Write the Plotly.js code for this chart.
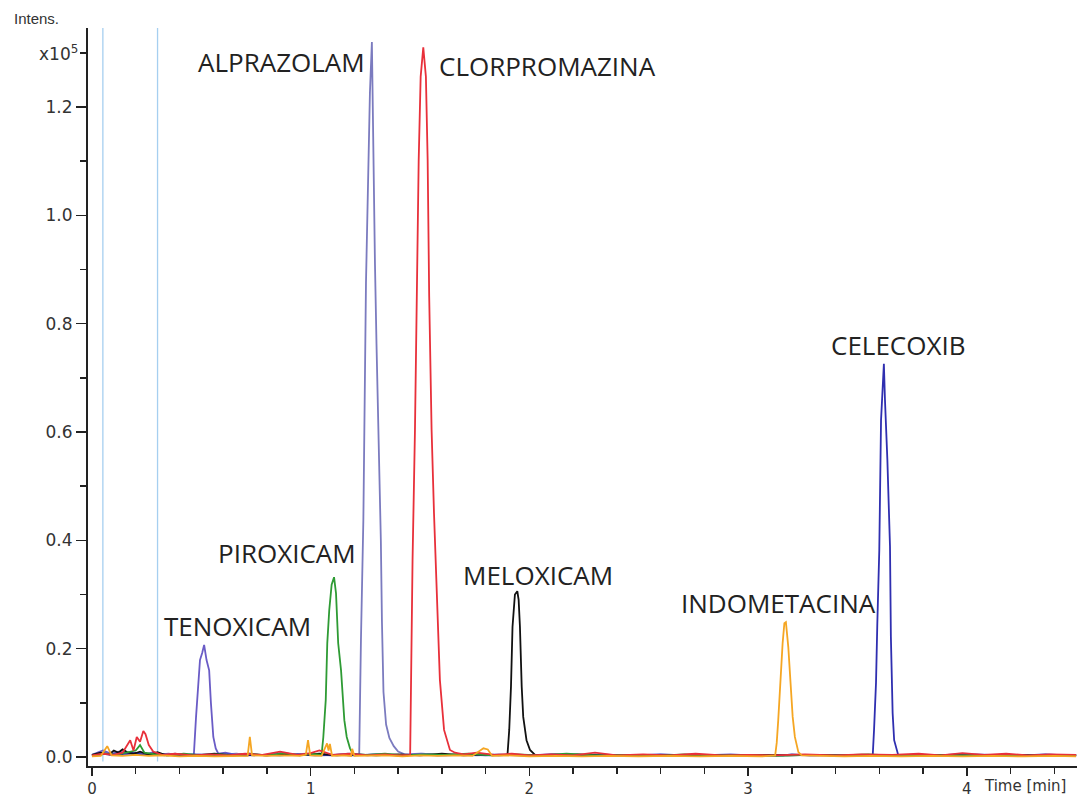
<!DOCTYPE html>
<html>
<head>
<meta charset="utf-8">
<script src="https://cdn.plot.ly/plotly-3.0.1.min.js"></script>
<style>
  html, body { margin: 0; padding: 0; background: #fff; }
  #chart { width: 1077px; height: 798px; }
</style>
</head>
<body>
<div id="chart"></div>
<script>
// Extracted ion chromatograms: [time (min), intensity (x10^5)]
const tenoxicam = [[0.00,0.004],[0.05,0.012],[0.09,0.006],[0.12,0.010],[0.16,0.005],[0.20,0.008],[0.24,0.004],[0.28,0.009],[0.33,0.003],[0.38,0.006],[0.43,0.003],
  [0.466,0.004],[0.476,0.074],[0.486,0.13],[0.494,0.179],[0.504,0.192],[0.513,0.207],[0.524,0.179],[0.536,0.16],[0.544,0.10],[0.555,0.037],[0.566,0.016],[0.578,0.006],
  [0.61,0.008],[0.66,0.004],[0.72,0.006],[0.79,0.003],[0.86,0.007],[0.93,0.004],[1.01,0.005],[1.09,0.003],[1.17,0.006],[1.25,0.004],[1.33,0.005],[1.42,0.003],[1.51,0.006],
  [1.62,0.003],[1.74,0.005],[1.86,0.004],[1.98,0.003],[2.10,0.005],[2.22,0.003],[2.36,0.004],[2.50,0.002],[2.64,0.004],[2.78,0.003],[2.92,0.005],[3.06,0.002],[3.20,0.004],
  [3.34,0.003],[3.48,0.004],[3.62,0.002],[3.76,0.004],[3.90,0.003],[4.04,0.005],[4.18,0.003],[4.32,0.004],[4.46,0.003],[4.50,0.003]];

const alprazolam = [[0.00,0.003],[0.04,0.007],[0.08,0.004],[0.13,0.009],[0.18,0.005],[0.23,0.008],[0.29,0.004],[0.35,0.006],[0.42,0.003],[0.50,0.005],[0.58,0.004],
  [0.66,0.006],[0.74,0.003],[0.82,0.005],[0.90,0.004],[0.98,0.006],[1.06,0.003],[1.14,0.005],[1.20,0.004],
  [1.222,0.004],[1.230,0.216],[1.241,0.437],[1.253,0.875],[1.262,1.034],[1.271,1.226],[1.280,1.32],[1.289,1.034],[1.294,0.912],[1.301,0.764],[1.308,0.635],
  [1.315,0.53],[1.321,0.40],[1.326,0.25],[1.333,0.12],[1.345,0.06],[1.36,0.035],[1.38,0.02],[1.40,0.01],[1.43,0.005],
  [1.50,0.006],[1.58,0.003],[1.66,0.005],[1.76,0.003],[1.86,0.005],[1.97,0.003],[2.08,0.004],[2.20,0.003],[2.33,0.005],[2.46,0.002],[2.60,0.004],[2.74,0.003],
  [2.88,0.004],[3.02,0.002],[3.16,0.004],[3.30,0.003],[3.44,0.004],[3.58,0.002],[3.72,0.004],[3.86,0.003],[4.00,0.004],[4.14,0.002],[4.28,0.004],[4.42,0.003],[4.50,0.003]];

const celecoxib = [[0.00,0.003],[0.06,0.006],[0.12,0.004],[0.18,0.008],[0.24,0.004],[0.30,0.006],[0.38,0.003],[0.46,0.005],[0.54,0.003],[0.62,0.005],[0.70,0.003],
  [0.78,0.004],[0.86,0.003],[0.94,0.005],[1.02,0.003],[1.10,0.004],[1.20,0.003],[1.30,0.005],[1.40,0.003],[1.50,0.004],[1.60,0.003],[1.70,0.005],[1.80,0.003],
  [1.90,0.004],[2.00,0.003],[2.12,0.005],[2.24,0.003],[2.36,0.004],[2.48,0.003],[2.60,0.005],[2.72,0.003],[2.84,0.004],[2.96,0.003],[3.08,0.004],[3.16,0.003],
  [3.20,0.005],[3.28,0.003],[3.38,0.004],[3.48,0.003],[3.56,0.004],
  [3.570,0.003],[3.576,0.05],[3.585,0.137],[3.591,0.247],[3.600,0.382],[3.608,0.622],[3.615,0.69],[3.621,0.726],[3.626,0.659],[3.637,0.548],[3.649,0.388],
  [3.653,0.222],[3.661,0.081],[3.668,0.031],[3.687,0.003],
  [3.76,0.004],[3.86,0.003],[3.96,0.005],[4.06,0.003],[4.16,0.004],[4.26,0.003],[4.36,0.005],[4.46,0.003],[4.50,0.003]];

const meloxicam = [[0.00,0.004],[0.04,0.008],[0.08,0.005],[0.10,0.012],[0.12,0.008],[0.14,0.014],[0.16,0.009],[0.19,0.006],[0.22,0.010],[0.26,0.004],[0.30,0.009],
  [0.34,0.003],[0.40,0.005],[0.48,0.003],[0.56,0.006],[0.64,0.003],[0.72,0.005],[0.80,0.003],[0.88,0.005],[0.96,0.004],[1.04,0.006],[1.12,0.003],[1.20,0.005],
  [1.30,0.003],[1.40,0.005],[1.50,0.003],[1.60,0.006],[1.70,0.003],[1.78,0.005],[1.86,0.003],
  [1.900,0.004],[1.908,0.05],[1.916,0.13],[1.923,0.24],[1.934,0.30],[1.945,0.306],[1.951,0.29],[1.957,0.24],[1.965,0.13],[1.972,0.074],[1.987,0.031],
  [2.003,0.013],[2.026,0.004],
  [2.10,0.003],[2.22,0.005],[2.35,0.002],[2.48,0.004],[2.62,0.003],[2.76,0.004],[2.90,0.002],[3.04,0.004],[3.18,0.003],[3.32,0.004],[3.46,0.002],[3.60,0.004],
  [3.74,0.003],[3.88,0.004],[4.02,0.002],[4.16,0.004],[4.30,0.003],[4.44,0.004],[4.50,0.003]];

const piroxicam = [[0.00,0.002],[0.06,0.006],[0.11,0.004],[0.16,0.009],[0.20,0.012],[0.22,0.022],[0.24,0.008],[0.29,0.005],[0.35,0.003],[0.42,0.006],[0.50,0.003],
  [0.58,0.005],[0.65,0.003],[0.72,0.006],[0.80,0.003],[0.88,0.007],[0.95,0.003],[1.00,0.006],[1.03,0.004],
  [1.050,0.004],[1.058,0.037],[1.069,0.105],[1.076,0.21],[1.085,0.271],[1.096,0.318],[1.107,0.332],[1.116,0.302],[1.126,0.21],[1.139,0.16],[1.146,0.105],
  [1.154,0.068],[1.165,0.037],[1.180,0.016],[1.195,0.005],
  [1.26,0.004],[1.34,0.006],[1.42,0.003],[1.52,0.005],[1.62,0.004],[1.72,0.006],[1.83,0.003],[1.94,0.005],[2.05,0.003],[2.17,0.006],[2.30,0.003],[2.43,0.004],
  [2.57,0.002],[2.71,0.005],[2.85,0.003],[2.99,0.004],[3.13,0.002],[3.27,0.004],[3.41,0.003],[3.55,0.005],[3.69,0.002],[3.83,0.004],[3.97,0.003],[4.11,0.004],
  [4.25,0.002],[4.39,0.004],[4.50,0.003]];

const clorpromazina = [[0.00,0.003],[0.05,0.006],[0.10,0.004],[0.14,0.008],[0.175,0.031],[0.19,0.012],[0.205,0.037],[0.22,0.028],[0.235,0.048],[0.245,0.042],
  [0.26,0.022],[0.28,0.010],[0.32,0.004],[0.38,0.006],[0.46,0.003],[0.54,0.005],[0.62,0.003],[0.70,0.006],[0.78,0.004],[0.86,0.010],[0.94,0.004],[1.00,0.007],
  [1.04,0.012],[1.10,0.004],[1.18,0.006],[1.26,0.003],[1.34,0.005],[1.40,0.003],
  [1.455,0.004],[1.466,0.364],[1.477,0.604],[1.485,0.868],[1.494,1.102],[1.503,1.256],[1.515,1.31],[1.527,1.256],[1.535,1.102],[1.542,0.85],[1.553,0.604],
  [1.564,0.45],[1.576,0.296],[1.591,0.142],[1.61,0.05],[1.637,0.013],[1.66,0.008],
  [1.70,0.005],[1.76,0.008],[1.84,0.004],[1.92,0.006],[2.00,0.003],[2.10,0.005],[2.20,0.003],[2.30,0.008],[2.40,0.003],[2.52,0.005],[2.64,0.003],[2.76,0.006],
  [2.88,0.003],[3.00,0.004],[3.12,0.003],[3.26,0.005],[3.40,0.003],[3.52,0.005],[3.66,0.004],[3.78,0.006],[3.88,0.003],[3.98,0.007],[4.08,0.004],[4.18,0.006],
  [4.28,0.003],[4.38,0.005],[4.50,0.004]];

const indometacina = [[0.00,0.001],[0.04,0.002],[0.07,0.020],[0.09,0.003],[0.14,0.002],[0.20,0.004],[0.26,0.002],[0.32,0.003],[0.40,0.001],[0.48,0.002],
  [0.56,0.001],[0.64,0.002],[0.712,0.002],[0.722,0.037],[0.732,0.003],[0.80,0.002],[0.88,0.003],[0.95,0.002],[0.978,0.004],[0.988,0.031],[0.998,0.003],
  [1.05,0.002],[1.075,0.025],[1.082,0.012],[1.088,0.024],[1.098,0.002],[1.15,0.003],[1.185,0.002],[1.19,0.015],[1.20,0.002],[1.26,0.002],[1.34,0.003],
  [1.42,0.001],[1.50,0.003],[1.58,0.002],[1.66,0.003],[1.74,0.002],[1.79,0.016],[1.81,0.014],[1.83,0.002],[1.90,0.003],[2.00,0.001],[2.12,0.002],[2.24,0.001],
  [2.36,0.002],[2.50,0.001],[2.64,0.002],[2.78,0.001],[2.92,0.002],[3.06,0.001],
  [3.124,0.003],[3.131,0.026],[3.138,0.068],[3.149,0.155],[3.158,0.21],[3.166,0.247],[3.173,0.249],[3.184,0.203],[3.195,0.124],[3.204,0.074],[3.214,0.037],
  [3.230,0.009],[3.245,0.003],
  [3.32,0.002],[3.44,0.001],[3.56,0.002],[3.70,0.001],[3.84,0.002],[3.98,0.001],[4.12,0.002],[4.26,0.001],[4.40,0.002],[4.50,0.001]];

// Compounds in drawing order (last one ends up on top of the baseline)
const compounds = [
  { name: 'ALPRAZOLAM',    points: alprazolam,    color: '#7b7bbf' },
  { name: 'TENOXICAM',     points: tenoxicam,     color: '#6a5cc6' },
  { name: 'CELECOXIB',     points: celecoxib,     color: '#2f2fb0' },
  { name: 'MELOXICAM',     points: meloxicam,     color: '#111111' },
  { name: 'PIROXICAM',     points: piroxicam,     color: '#2e9b34' },
  { name: 'CLORPROMAZINA', points: clorpromazina, color: '#e8303a' },
  { name: 'INDOMETACINA',  points: indometacina,  color: '#f5a623' }
];

// Acquisition segment markers (min)
const segmentMarks = [0.05, 0.30];

const traces = compounds.map(c => ({
  type: 'scatter',
  mode: 'lines',
  name: c.name,
  x: c.points.map(p => p[0]),
  y: c.points.map(p => p[1]),
  line: { color: c.color, width: 1.8 },
  hoverinfo: 'skip'
}));

const labelFont = { family: 'Open Sans, sans-serif', size: 26, color: '#222' };
const peakLabels = [
  { text: 'ALPRAZOLAM',    x: 0.4755, y: 1.283 },
  { text: 'CLORPROMAZINA', x: 1.5775, y: 1.2756 },
  { text: 'CELECOXIB',     x: 3.370,  y: 0.7606 },
  { text: 'PIROXICAM',     x: 0.567,  y: 0.3766 },
  { text: 'MELOXICAM',     x: 1.687,  y: 0.336 },
  { text: 'INDOMETACINA',  x: 2.684,  y: 0.284 },
  { text: 'TENOXICAM',     x: 0.320,  y: 0.2418 }
].map(l => ({
  text: l.text, x: l.x, y: l.y, xref: 'x', yref: 'y',
  xanchor: 'left', yanchor: 'middle', showarrow: false, font: labelFont
}));

const axisFont = { family: 'DejaVu Sans, sans-serif', size: 17, color: '#333' };
const xTickFont = { family: 'DejaVu Sans, sans-serif', size: 15, color: '#333' };

const annotations = peakLabels.concat([
  { text: 'Intens.', xref: 'paper', yref: 'paper', x: -0.0768, y: 1.0122,
    xanchor: 'left', yanchor: 'middle', showarrow: false,
    font: { family: 'Liberation Sans Narrow, Liberation Sans, Arial, sans-serif', size: 15, color: '#333' } },
  { text: 'x10<sup>5</sup>', xref: 'paper', yref: 'y', x: -0.008, y: 1.3,
    xanchor: 'right', yanchor: 'middle', showarrow: false, font: axisFont },
  { text: 'Time [min]', xref: 'paper', yref: 'paper', x: 0.904, y: -0.027,
    xanchor: 'left', yanchor: 'middle', showarrow: false,
    font: { family: 'DejaVu Sans, sans-serif', size: 15, color: '#333' } }
]);

const shapes = segmentMarks.map(t => ({
  type: 'line', xref: 'x', yref: 'paper', x0: t, x1: t, y0: 0.006, y1: 1,
  line: { color: '#a6cff0', width: 1.3 }, layer: 'below'
}));

const layout = {
  width: 1077,
  height: 798,
  margin: { l: 88, r: 0, t: 28, b: 32 },
  paper_bgcolor: '#ffffff',
  plot_bgcolor: '#ffffff',
  showlegend: false,
  xaxis: {
    range: [-0.018, 4.504],
    tick0: 0, dtick: 1,
    showgrid: false, zeroline: false,
    showline: true, linecolor: '#222', linewidth: 2,
    ticks: 'outside', ticklen: 8, tickwidth: 1.5, tickcolor: '#222',
    tickfont: xTickFont,
    minor: { dtick: 0.2, ticks: 'outside', ticklen: 6, tickwidth: 1.5, tickcolor: '#222', showgrid: false }
  },
  yaxis: {
    range: [-0.0166, 1.3458],
    tick0: 0, dtick: 0.2, tickformat: '.1f',
    showgrid: false, zeroline: false,
    showline: true, linecolor: '#222', linewidth: 2,
    ticks: 'outside', ticklen: 10, tickwidth: 1.5, tickcolor: '#222',
    tickfont: axisFont,
    minor: { dtick: 0.1, ticks: 'outside', ticklen: 6, tickwidth: 1.5, tickcolor: '#222', showgrid: false }
  },
  shapes: shapes,
  annotations: annotations
};

Plotly.newPlot('chart', traces, layout, { staticPlot: true, displayModeBar: false });
</script>
</body>
</html>
